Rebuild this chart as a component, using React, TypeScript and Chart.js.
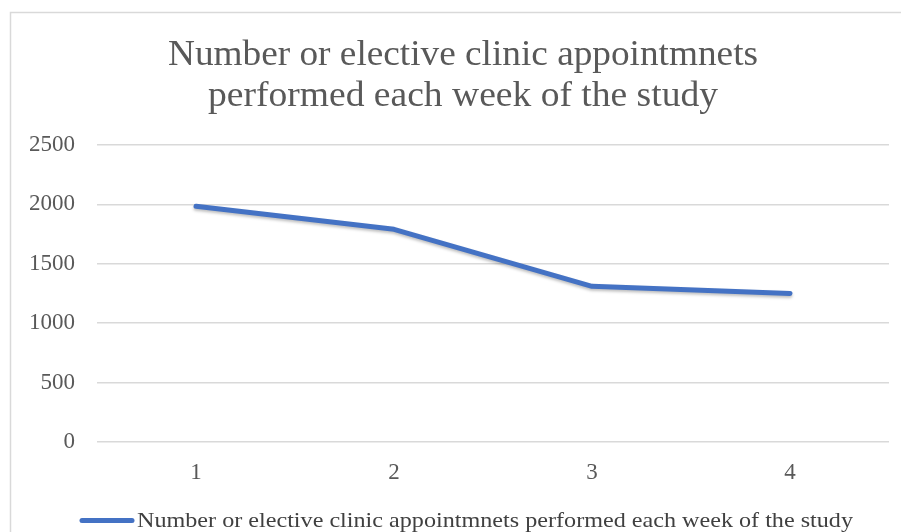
import React, { useEffect, useRef } from "react";
import { Chart, registerables } from "chart.js";

Chart.register(...registerables);

const weeks: string[] = ["1", "2", "3", "4"];
const appointments: number[] = [1985, 1790, 1310, 1250];
const yTicks: number[] = [0, 500, 1000, 1500, 2000, 2500];
const titleLines: string[] = [
  "Number or elective clinic appointmnets",
  "performed each week of the study",
];
const seriesName = "Number or elective clinic appointmnets performed each week of the study";

const FONT = "'Liberation Serif', 'DejaVu Serif', serif";
const TEXT = "#595959";
const LINE = "#4472C4";

function drawFitted(
  ctx: CanvasRenderingContext2D,
  text: string,
  x: number,
  y: number,
  size: number,
  width: number,
  align: "center" | "left"
) {
  ctx.save();
  ctx.font = `${size}px ${FONT}`;
  const m = ctx.measureText(text).width;
  const s = width / m;
  ctx.translate(x, y);
  ctx.scale(s, 1);
  ctx.textAlign = align;
  ctx.textBaseline = "alphabetic";
  ctx.fillText(text, 0, 0);
  ctx.restore();
}

const framePlugin = {
  id: "frame",
  beforeDraw(chart: any) {
    const ctx = chart.ctx as CanvasRenderingContext2D;
    ctx.save();
    ctx.fillStyle = "#ffffff";
    ctx.fillRect(0, 0, chart.width, chart.height);
    ctx.strokeStyle = "#D9D9D9";
    ctx.lineWidth = 1.5;
    ctx.strokeRect(10.5, 12.5, chart.width + 20, chart.height + 20);
    ctx.restore();
  },
  afterDraw(chart: any) {
    const ctx = chart.ctx as CanvasRenderingContext2D;
    ctx.save();
    ctx.fillStyle = TEXT;
    drawFitted(ctx, titleLines[0], 463, 65, 35, 590, "center");
    drawFitted(ctx, titleLines[1], 463, 106, 35, 510, "center");
    // legend
    ctx.strokeStyle = LINE;
    ctx.lineWidth = 5;
    ctx.lineCap = "round";
    ctx.beginPath();
    ctx.moveTo(82, 520.5);
    ctx.lineTo(132, 520.5);
    ctx.stroke();
    ctx.fillStyle = "#404040";
    drawFitted(ctx, seriesName, 137, 527, 21, 716, "left");
    ctx.restore();
  },
};

const shadowPlugin = {
  id: "lineShadow",
  beforeDatasetsDraw(chart: any) {
    const ctx = chart.ctx as CanvasRenderingContext2D;
    ctx.save();
    ctx.shadowColor = "rgba(0,0,0,0.25)";
    ctx.shadowBlur = 3;
    ctx.shadowOffsetX = 0;
    ctx.shadowOffsetY = 2;
  },
  afterDatasetsDraw(chart: any) {
    chart.ctx.restore();
  },
};

export default function App() {
  const ref = useRef<HTMLCanvasElement | null>(null);
  useEffect(() => {
    if (!ref.current) return;
    const chart = new Chart(ref.current, {
      type: "line",
      data: {
        labels: weeks,
        datasets: [
          {
            label: seriesName,
            data: appointments,
            borderColor: LINE,
            backgroundColor: LINE,
            borderWidth: 5,
            borderCapStyle: "round",
            borderJoinStyle: "round",
            pointRadius: 0,
            tension: 0,
          },
        ],
      },
      options: {
        animation: false,
        responsive: false,
        maintainAspectRatio: false,
        layout: { padding: { left: 0, right: 12, top: 145, bottom: 30 } },
        plugins: {
          legend: { display: false },
          title: { display: false },
          tooltip: { enabled: false },
        },
        scales: {
          x: {
            offset: true,
            grid: { display: false, drawTicks: false },
            border: { display: false },
            ticks: {
              color: TEXT,
              font: { family: FONT, size: 23 },
              padding: 17,
            },
            afterFit(scale: any) {
              scale.height = 60;
            },
          },
          y: {
            min: 0,
            max: 2500,
            afterBuildTicks(scale: any) {
              scale.ticks = yTicks.map((v) => ({ value: v }));
            },
            grid: { color: "#D9D9D9", lineWidth: 1.5, drawTicks: false },
            border: { display: false },
            ticks: {
              color: TEXT,
              font: { family: FONT, size: 23 },
              padding: 22,
              callback: (v: any) => String(v),
            },
            afterFit(scale: any) {
              scale.width = 97;
            },
          },
        },
      },
      plugins: [framePlugin, shadowPlugin],
    });
    return () => chart.destroy();
  }, []);
  return (
    <div style={{ position: "absolute", left: 0, top: 0, width: 901, height: 532 }}>
      <canvas ref={ref} width={901} height={532} style={{ display: "block" }} />
    </div>
  );
}
